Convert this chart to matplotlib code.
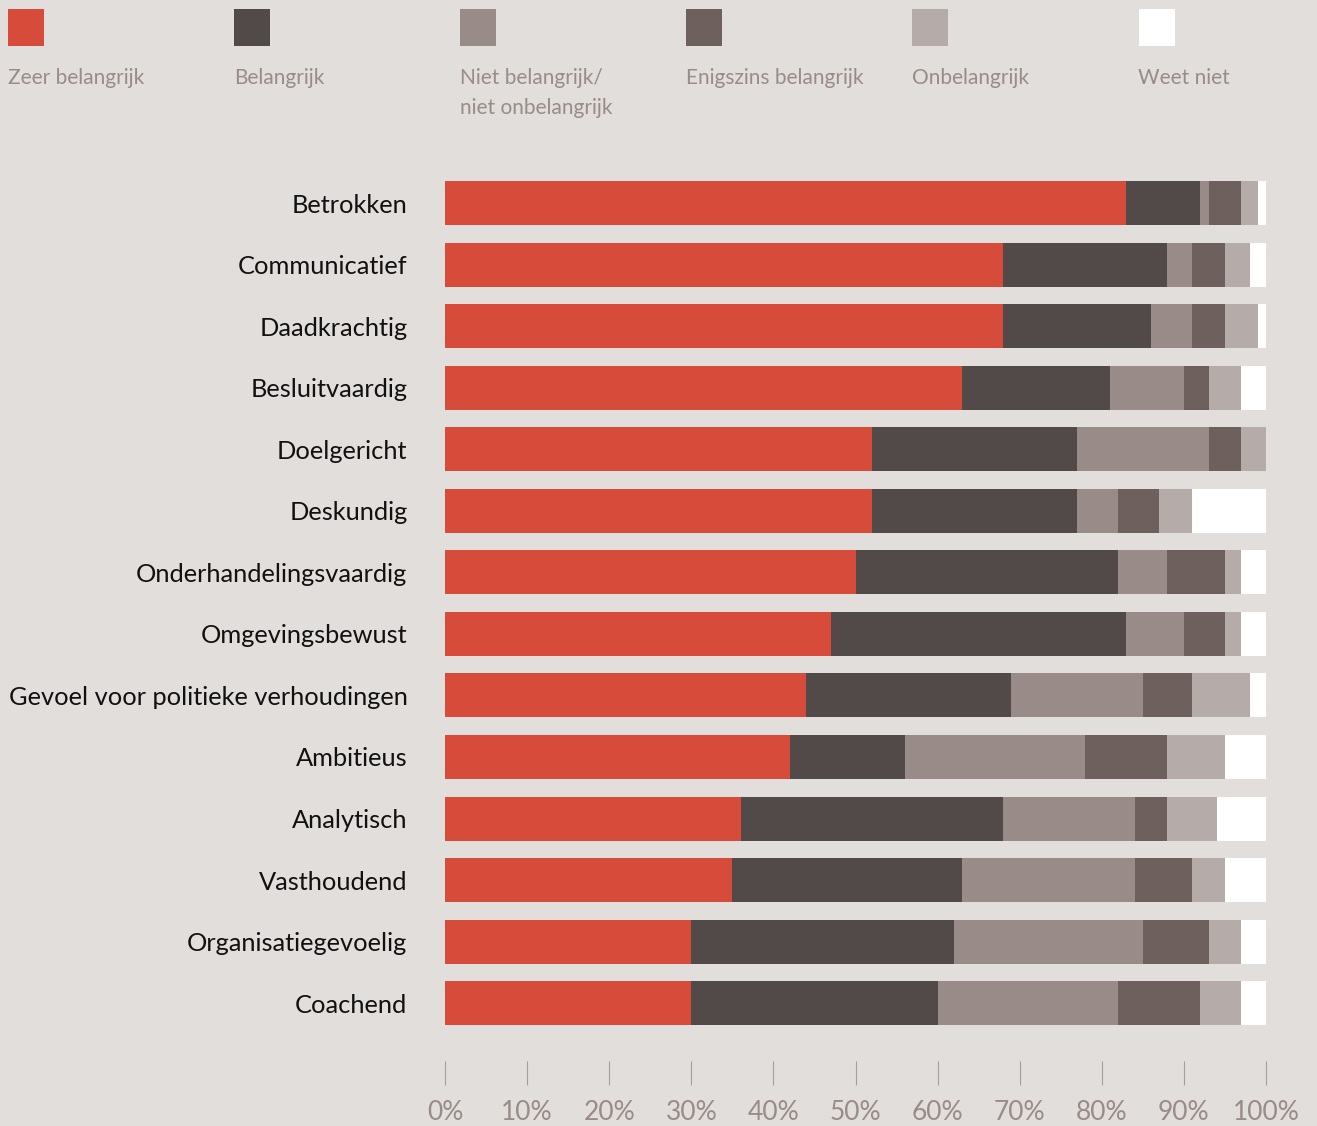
import matplotlib.pyplot as plt
from matplotlib.patches import Rectangle

plt.rcParams['font.family'] = ['Lato', 'DejaVu Sans']

# data (percentages per answer category)
traits = ['Betrokken', 'Communicatief', 'Daadkrachtig', 'Besluitvaardig', 'Doelgericht',
          'Deskundig', 'Onderhandelingsvaardig', 'Omgevingsbewust',
          'Gevoel voor politieke verhoudingen', 'Ambitieus', 'Analytisch',
          'Vasthoudend', 'Organisatiegevoelig', 'Coachend']
zeer = [83, 68, 68, 63, 52, 52, 50, 47, 44, 42, 36, 35, 30, 30]
belangrijk = [9, 20, 18, 18, 25, 25, 32, 36, 25, 14, 32, 28, 32, 30]
neutraal = [1, 3, 5, 9, 16, 5, 6, 7, 16, 22, 16, 21, 23, 22]
enigszins = [4, 4, 4, 3, 4, 5, 7, 5, 6, 10, 4, 7, 8, 10]
onbelangrijk = [2, 3, 4, 4, 3, 4, 2, 2, 7, 7, 6, 4, 4, 5]
weet_niet = [1, 2, 1, 3, 0, 9, 3, 3, 2, 5, 6, 5, 3, 3]

series = [zeer, belangrijk, neutraal, enigszins, onbelangrijk, weet_niet]
legend_labels = ['Zeer belangrijk', 'Belangrijk', 'Niet belangrijk/\nniet onbelangrijk',
                 'Enigszins belangrijk', 'Onbelangrijk', 'Weet niet']
colors = ['#d64b39', '#524a49', '#998c88', '#6e605d', '#b5aca9', '#ffffff']
ticks = list(range(0, 101, 10))

bg = '#e2dedc'
grey_text = '#998c88'

fig = plt.figure(figsize=(13.17, 11.26), dpi=100, facecolor=bg)
W, H = 1317, 1126
ax = fig.add_axes([445 / W, 1 - 1061 / H, (1266 - 445) / W, (1061 - 181) / H])
ax.set_facecolor(bg)

y = list(range(len(traits)))
left = [0] * len(traits)
for vals, c in zip(series, colors):
    ax.barh(y, vals, left=left, color=c, height=0.715, linewidth=0)
    left = [l + v for l, v in zip(left, vals)]

ax.set_xlim(0, 100)
ax.set_ylim(13.94, -0.36)
ax.set_yticks(y)
ax.set_yticklabels(traits, fontsize=18.3, color='#111111')
ax.tick_params(axis='y', length=0, pad=27)
ax.set_xticks(ticks)
ax.set_xticklabels([f'{t}%' for t in ticks], fontsize=19, color=grey_text)
ax.tick_params(axis='x', length=17.3, width=0.8, color='#a89d9a', pad=11)
for s in ax.spines.values():
    s.set_visible(False)

# legend across the top
for i, (lab, c) in enumerate(zip(legend_labels, colors)):
    x0 = 8 + i * 226.1
    fig.patches.append(Rectangle((x0 / W, 1 - 46 / H), 36 / W, 37 / H,
                                 transform=fig.transFigure, facecolor=c, edgecolor='none'))
    fig.text(x0 / W, 1 - 68 / H, lab, fontsize=15, color=grey_text,
             va='top', ha='left', linespacing=1.6)

fig.savefig('out.png', dpi=100, facecolor=bg)
